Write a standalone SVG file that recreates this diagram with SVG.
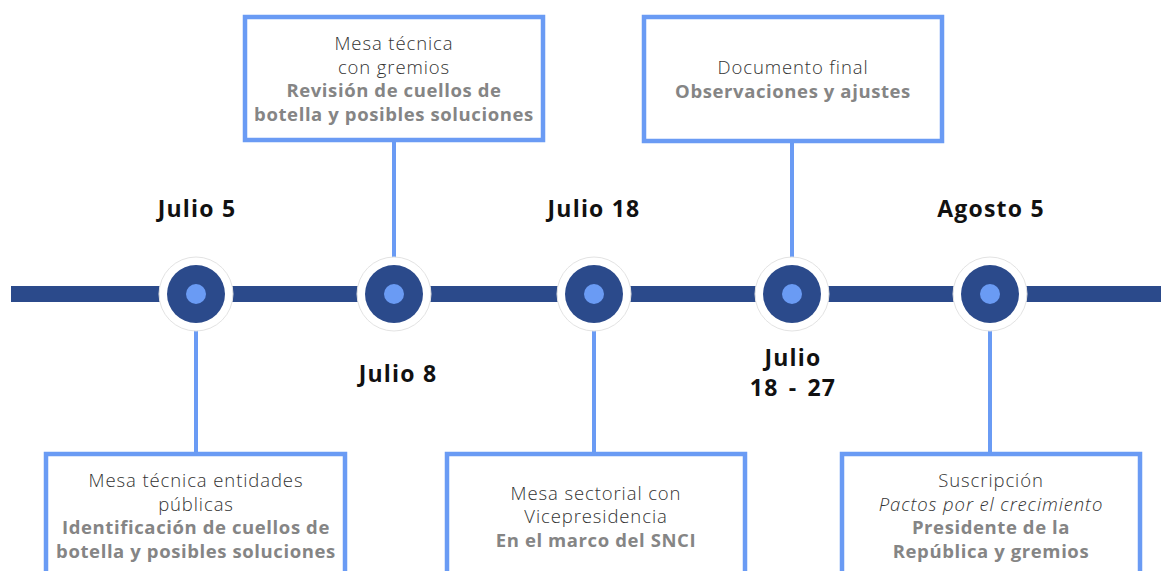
<svg xmlns="http://www.w3.org/2000/svg" width="1161" height="571" viewBox="0 0 1161 571">
<style>
.box{fill:#fff;stroke:#6a9bf4;stroke-width:4.5}
.conn{stroke:#6a9bf4;stroke-width:4;fill:none}
.ring{fill:#fff;stroke:#e3e3e3;stroke-width:1}
.dot{fill:#2b4a8b}
.pin{fill:#6a9bf4}
.date{font-family:"Open Sans","Liberation Sans",sans-serif;font-weight:700;font-size:23px;letter-spacing:1.2px;fill:#111;text-anchor:middle}
.t{font-family:"Open Sans","Liberation Sans",sans-serif;font-weight:300;font-size:18.5px;letter-spacing:0.9px;fill:#333;text-anchor:middle}
.b{font-family:"Open Sans","Liberation Sans",sans-serif;font-weight:700;font-size:18.5px;letter-spacing:0.6px;fill:#858585;text-anchor:middle}
.i{font-style:italic}
</style>
<rect width="1161" height="571" fill="#fff"/>
<rect x="11" y="286" width="1150" height="16" fill="#2b4a8b"/>
<g id="connectors">
<line class="conn" x1="196" y1="294" x2="196" y2="454"/>
<line class="conn" x1="394" y1="140" x2="394" y2="294"/>
<line class="conn" x1="594" y1="294" x2="594" y2="454"/>
<line class="conn" x1="792" y1="141" x2="792" y2="294"/>
<line class="conn" x1="990" y1="294" x2="990" y2="454"/>
</g>
<g id="m1"><circle class="ring" cx="196" cy="294" r="37"/><circle class="dot" cx="196" cy="294" r="29"/><circle class="pin" cx="196" cy="294" r="10"/><text class="date" x="197" y="217">Julio 5</text></g>
<g id="m2"><circle class="ring" cx="394" cy="294" r="37"/><circle class="dot" cx="394" cy="294" r="29"/><circle class="pin" cx="394" cy="294" r="10"/><text class="date" x="398" y="382">Julio 8</text></g>
<g id="m3"><circle class="ring" cx="594" cy="294" r="37"/><circle class="dot" cx="594" cy="294" r="29"/><circle class="pin" cx="594" cy="294" r="10"/><text class="date" x="594" y="217">Julio 18</text></g>
<g id="m4"><circle class="ring" cx="792" cy="294" r="37"/><circle class="dot" cx="792" cy="294" r="29"/><circle class="pin" cx="792" cy="294" r="10"/><text class="date" x="793" y="366">Julio</text><text class="date" x="793" y="396" word-spacing="3">18 - 27</text></g>
<g id="m5"><circle class="ring" cx="990" cy="294" r="37"/><circle class="dot" cx="990" cy="294" r="29"/><circle class="pin" cx="990" cy="294" r="10"/><text class="date" x="991" y="217">Agosto 5</text></g>
<g id="box1">
<rect class="box" x="245" y="17" width="298" height="123"/>
<text class="t" x="394" y="50">Mesa técnica</text>
<text class="t" x="394" y="74">con gremios</text>
<text class="b" x="394" y="97">Revisión de cuellos de</text>
<text class="b" x="394" y="121">botella y posibles soluciones</text>
</g>
<g id="box2">
<rect class="box" x="644" y="17" width="298" height="124"/>
<text class="t" x="793" y="74">Documento final</text>
<text class="b" x="793" y="98">Observaciones y ajustes</text>
</g>
<g id="box3">
<rect class="box" x="46" y="454" width="299" height="130"/>
<text class="t" x="196" y="487">Mesa técnica entidades</text>
<text class="t" x="196" y="511">públicas</text>
<text class="b" x="196" y="534">Identificación de cuellos de</text>
<text class="b" x="196" y="558">botella y posibles soluciones</text>
</g>
<g id="box4">
<rect class="box" x="447" y="454" width="298" height="130"/>
<text class="t" x="596" y="500">Mesa sectorial con</text>
<text class="t" x="596" y="523">Vicepresidencia</text>
<text class="b" x="596" y="547">En el marco del SNCI</text>
</g>
<g id="box5">
<rect class="box" x="842" y="454" width="298" height="130"/>
<text class="t" x="991" y="487">Suscripción</text>
<text class="t i" x="991" y="511">Pactos por el crecimiento</text>
<text class="b" x="991" y="534">Presidente de la</text>
<text class="b" x="991" y="558">República y gremios</text>
</g>
</svg>
